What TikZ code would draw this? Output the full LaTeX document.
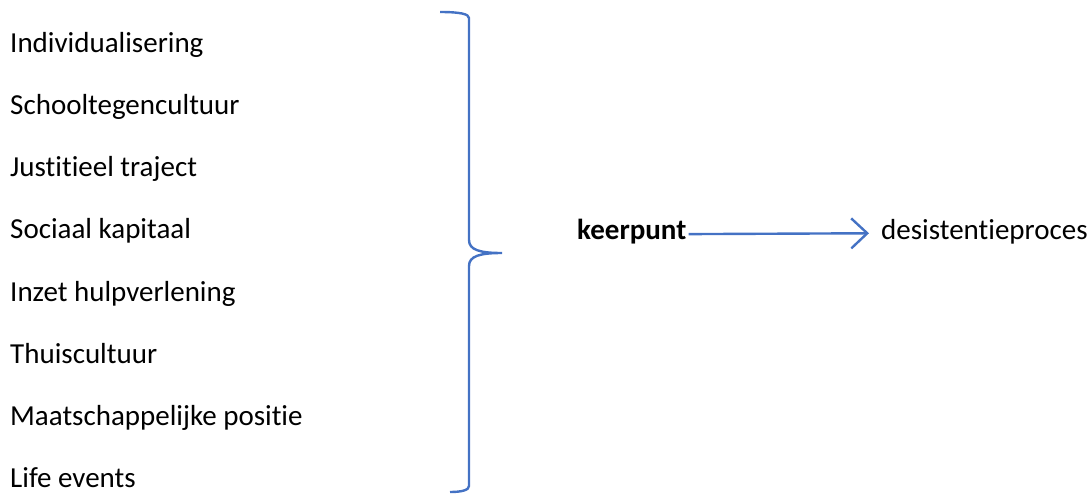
\documentclass[tikz,border=0pt]{standalone}
\usepackage{fontspec}
\setmainfont[Ligatures=NoCommon]{Carlito}
\usetikzlibrary{arrows.meta}
\definecolor{bblue}{RGB}{68,114,196}
\begin{document}
\begin{tikzpicture}[x=1pt,y=-1pt,
  item/.style={anchor=base west,inner sep=0pt,font=\fontsize{29}{34}\selectfont},
  brace/.style={draw=bblue,line width=2.4pt},
  conn/.style={draw=bblue,line width=2.4pt,-{Straight Barb[length=16pt,width=30pt,line width=2.4pt]}}]
\useasboundingbox (0,0) rectangle (1091,493);
\node[item] (i1) at (10,52) {Individualisering};
\node[item] (i2) at (10,114.3) {Schooltegencultuur};
\node[item] (i3) at (10,176.6) {Justitieel traject};
\node[item] (i4) at (10,238.9) {Sociaal kapitaal};
\node[item] (i5) at (10,301.2) {Inzet hulpverlening};
\node[item] (i6) at (10,363.5) {Thuiscultuur};
\node[item] (i7) at (10,425.8) {Maatschappelijke positie};
\node[item] (i8) at (10,487) {Life events};
\node[item,font=\fontsize{29}{34}\selectfont\bfseries] (keer) at (577,239) {keerpunt};
\node[item] (des) at (881,239) {desistentieproces};
\coordinate (tip) at (502,253);
\draw[brace] (440,12) .. controls (460,12) and (469,14) .. (469,18) -- (469,240)
  .. controls (469,250) and (480,253) .. (tip)
  .. controls (480,253) and (469,256) .. (469,266) -- (469,486)
  .. controls (469,490) and (462,492) .. (450,492);
\draw[conn] ([xshift=2pt,yshift=-3pt]keer.east) -- ([xshift=-12pt,yshift=-2pt]des.west);
\end{tikzpicture}
\end{document}
